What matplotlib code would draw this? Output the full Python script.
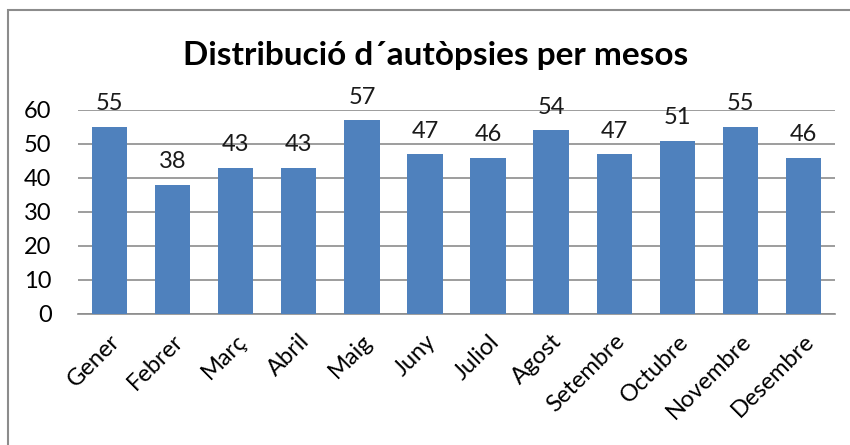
import matplotlib.pyplot as plt
import matplotlib.patches as patches

mesos = ['Gener', 'Febrer', 'Març', 'Abril', 'Maig', 'Juny', 'Juliol',
         'Agost', 'Setembre', 'Octubre', 'Novembre', 'Desembre']
autopsies = [55, 38, 43, 43, 57, 47, 46, 54, 47, 51, 55, 46]
yticks = [0, 10, 20, 30, 40, 50, 60]

plt.rcParams['font.family'] = ['Lato', 'DejaVu Sans']

fig = plt.figure(figsize=(8.5, 4.45), dpi=100)

# gray frame around the chart (only left and top are visible in the image)
fig.patches.append(patches.Rectangle((8 / 850, -0.05), 1.2, 1 - 10 / 445 + 0.05,
                                     transform=fig.transFigure, fill=False,
                                     edgecolor='#8c8c8c', linewidth=1.5))

ax = fig.add_axes([78 / 850, 1 - 314 / 445, (835 - 78) / 850, (314 - 110) / 445])
x = range(len(mesos))
bars = ax.bar(x, autopsies, width=0.56, color='#4F81BD', zorder=3)

for xi, v in zip(x, autopsies):
    ax.annotate(str(v), (xi, v), xytext=(0, 9), textcoords='offset points',
                ha='center', va='bottom', fontsize=17, color='#1a1a1a')

ax.set_xlim(-0.5, len(mesos) - 0.5)
ax.set_ylim(0, 60)
ax.set_yticks(yticks)
ax.yaxis.grid(True, color='#8c8c8c', linewidth=1.2, zorder=0)
ax.set_axisbelow(True)
for s in ['left', 'right', 'top']:
    ax.spines[s].set_visible(False)
ax.spines['bottom'].set_color('#8c8c8c')
ax.spines['bottom'].set_linewidth(1.2)
ax.tick_params(axis='y', length=0, pad=19, labelsize=17)
ax.tick_params(axis='x', length=0, pad=12, labelsize=17)
ax.set_xticks(list(x))
ax.set_xticklabels(mesos, rotation=45, ha='right', rotation_mode='anchor')

fig.text(436 / 850, 1 - 55 / 445, 'Distribució d´autòpsies per mesos',
         ha='center', va='center', fontsize=24, fontweight='bold')

fig.savefig('out.png', dpi=100)
